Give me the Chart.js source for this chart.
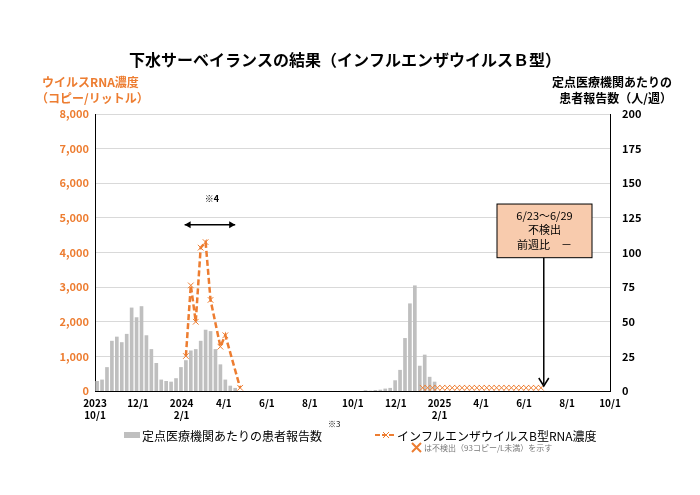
<!DOCTYPE html>
<html><head><meta charset="utf-8">
<script src="https://cdn.jsdelivr.net/npm/chart.js@4"></script>
<style>html,body{margin:0;background:#fff}#w{width:700px;height:495px}</style>
</head><body><div id="w"><canvas id="c"></canvas></div>
<script>
const origin = '2023-10-01';
const tickDates = ['2023-10-01','2023-12-01','2024-02-01','2024-04-01','2024-06-01','2024-08-01','2024-10-01','2024-12-01','2025-02-01','2025-04-01','2025-06-01','2025-08-01','2025-10-01'];
const tickLabels = [['2023','10/1'],'12/1',['2024','2/1'],'4/1','6/1','8/1','10/1','12/1',['2025','2/1'],'4/1','6/1','8/1','10/1'];
const season1Start = '2023-10-04';
const season1Patients = [7,8,17,36,39,35,41,60,53,61,40,30,20,8,7,6.5,9,17,22,29,30,36,44,43,30,19,8,3.6,2];
const season2Start = '2024-10-19';
const season2Patients = [0.3,0,0.5,0.7,1.5,2,7.5,15,38,63,76,18,26,10,6.5];
const rnaDates = ['2024-02-07','2024-02-14','2024-02-21','2024-02-28','2024-03-06','2024-03-13','2024-03-27','2024-04-03','2024-04-24'];
const rnaValues = [1010,3050,2000,4140,4300,2630,1280,1610,93];
const ndStart = '2025-01-08';
const ndCount = 25;
const ndValue = 93;
const leftTicks = [0,1000,2000,3000,4000,5000,6000,7000,8000];

const day = s => Math.round((new Date(s+'T00:00:00Z') - new Date(origin+'T00:00:00Z'))/86400000);
const tickDays = tickDates.map(day);
const bars = [];
season1Patients.forEach((v,i)=>bars.push({x:day(season1Start)+7*i,y:v}));
season2Patients.forEach((v,i)=>bars.push({x:day(season2Start)+7*i,y:v}));
const rna = rnaDates.map((d,i)=>({x:day(d),y:rnaValues[i]}));
const nd = []; for(let i=0;i<ndCount;i++) nd.push({x:day(ndStart)+7*i,y:ndValue});
const ORANGE='#ED7D31', FONT='"Noto Sans CJK JP", sans-serif';

const deco = {id:'deco', afterDraw(ch){
  const c=ch.ctx, xs=ch.scales.x, y=ch.scales.y, a=ch.chartArea;
  c.save();
  c.fillStyle='#000'; c.textAlign='center'; c.textBaseline='middle';
  c.font='bold 16px '+FONT; c.fillText('下水サーベイランスの結果（インフルエンザウイルスＢ型）',345,60);
  c.font='bold 12px '+FONT; c.fillStyle=ORANGE; c.textAlign='left';
  c.fillText('ウイルスRNA濃度',42,82); c.fillText('（コピー/リットル）',36,98);
  c.fillStyle='#000'; c.textAlign='right';
  c.fillText('定点医療機関あたりの',672,82); c.fillText('患者報告数（人/週）',672,98);
  const x1=xs.getPixelForValue(day('2024-02-01'))+3, x2=xs.getPixelForValue(day('2024-04-17')), ya=y.getPixelForValue(4800);
  c.strokeStyle='#000'; c.lineWidth=1.5; c.beginPath(); c.moveTo(x1,ya); c.lineTo(x2,ya); c.stroke();
  const head=(x,dir)=>{c.beginPath();c.moveTo(x,ya);c.lineTo(x-dir*6,ya-3.5);c.lineTo(x-dir*6,ya+3.5);c.closePath();c.fill();};
  head(x1,-1); head(x2,1);
  c.font='bold 9px '+FONT; c.textAlign='center'; c.fillText('※4',(x1+x2)/2+2,ya-26);
  const bx=497,bw=95,by=y.getPixelForValue(5400),bh=y.getPixelForValue(3850)-by;
  c.fillStyle='#F8CBAD'; c.fillRect(bx,by,bw,bh); c.lineWidth=1; c.strokeRect(bx,by,bw,bh);
  c.fillStyle='#000'; c.font='11px '+FONT;
  c.fillText('6/23～6/29',bx+bw/2,by+12); c.fillText('不検出',bx+bw/2,by+26); c.fillText('前週比　－',bx+bw/2,by+41);
  const ax=xs.getPixelForValue(day('2025-06-29'));
  c.lineWidth=1.5; c.beginPath(); c.moveTo(ax,by+bh); c.lineTo(ax,a.bottom-7); c.stroke();
  c.beginPath(); c.moveTo(ax-5,a.bottom-13); c.lineTo(ax,a.bottom-5); c.lineTo(ax+5,a.bottom-13); c.stroke();
  c.fillStyle='#BFBFBF'; c.fillRect(124,432,16,6);
  c.fillStyle='#000'; c.font='12px '+FONT; c.textAlign='left'; c.fillText('定点医療機関あたりの患者報告数',142,436);
  c.font='8px '+FONT; c.fillText('※3',328,424);
  c.strokeStyle=ORANGE; c.lineWidth=2; c.setLineDash([5,2]); c.beginPath(); c.moveTo(375,435); c.lineTo(396,435); c.stroke(); c.setLineDash([]);
  c.lineWidth=1; c.beginPath(); c.moveTo(383,432); c.lineTo(389,438); c.moveTo(389,432); c.lineTo(383,438); c.stroke();
  c.font='12px '+FONT; c.fillText('インフルエンザウイルスB型RNA濃度',397,436);
  c.lineWidth=2; c.beginPath(); c.moveTo(412,443); c.lineTo(421,452); c.moveTo(421,443); c.lineTo(412,452); c.stroke();
  c.fillStyle='#777'; c.font='8px '+FONT; c.fillText('は不検出（93コピー/L未満）を示す',424,448);
  c.restore();
}};

new Chart(document.getElementById('c'),{
  data:{datasets:[
    {type:'line',data:rna,yAxisID:'y',borderColor:ORANGE,borderWidth:2.5,borderDash:[6,3],pointStyle:'crossRot',pointRadius:4,pointBorderColor:ORANGE,pointBorderWidth:1,fill:false,order:0},
    {type:'line',data:nd,yAxisID:'y',showLine:false,pointStyle:'crossRot',pointRadius:4,pointBorderColor:ORANGE,pointBorderWidth:1,order:0},
    {type:'bar',data:bars,yAxisID:'y2',backgroundColor:'#BFBFBF',barThickness:3,order:1}
  ]},
  options:{animation:false,responsive:true,maintainAspectRatio:false,
    layout:{padding:{top:114,left:0,right:0,bottom:0}},
    plugins:{legend:{display:false},tooltip:{enabled:false}},
    scales:{
      x:{type:'linear',min:0,max:tickDays[tickDays.length-1],offset:false,
        afterBuildTicks:s=>{s.ticks=tickDays.map(v=>({value:v}));},
        afterFit:s=>{s.height=104;},
        grid:{display:false,drawTicks:true,tickLength:4,color:'#000'},
        border:{color:'#000'},
        ticks:{autoSkip:false,maxRotation:0,padding:2,color:'#000',font:{family:FONT,size:10,weight:'bold'},
          callback:(v)=>{const i=tickDays.indexOf(v);return i>=0?tickLabels[i]:'';}}},
      y:{position:'left',min:0,max:8000,afterFit:s=>{s.width=95;},
        afterBuildTicks:s=>{s.ticks=leftTicks.map(v=>({value:v}));},
        grid:{color:'#D9D9D9',drawTicks:false},border:{color:'#000'},
        ticks:{padding:6,color:ORANGE,font:{family:FONT,size:11,weight:'bold'},callback:v=>v.toLocaleString('en-US')}},
      y2:{position:'right',min:0,max:200,afterFit:s=>{s.width=90;},
        grid:{display:false},border:{color:'#000'},
        ticks:{stepSize:25,padding:4,color:'#000',font:{family:FONT,size:11,weight:'bold'}}}
    }},
  plugins:[deco]
});
</script></body></html>
